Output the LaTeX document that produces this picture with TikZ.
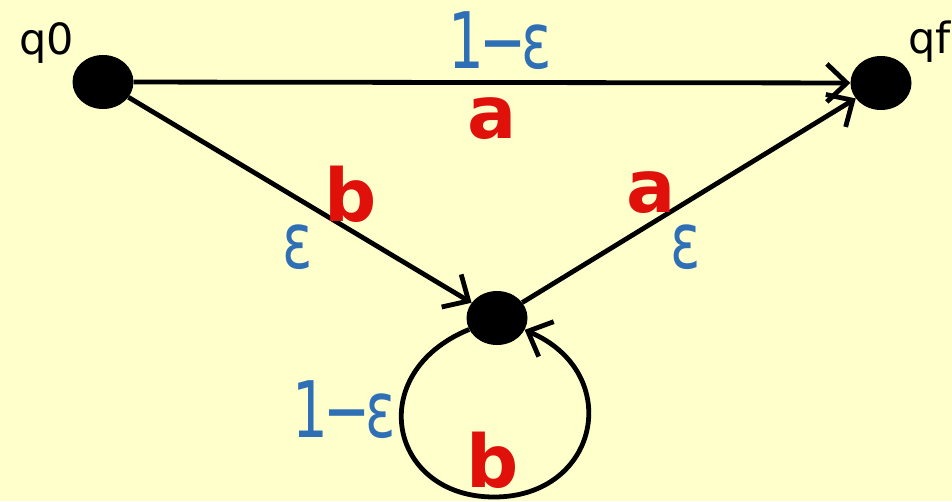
\documentclass[tikz,border=0pt]{standalone}
\usepackage{fontspec}
\setmainfont{DejaVu Sans}
\newfontfamily\epsfont[FakeStretch=0.72]{DejaVu Sans}
\usetikzlibrary{arrows.meta, shapes.geometric}
\definecolor{paper}{HTML}{FFFFCC}
\definecolor{symred}{HTML}{E0110B}
\definecolor{probblue}{HTML}{2F6FB5}

\begin{document}
\begin{tikzpicture}[x=1pt,y=-1pt,
  state/.style={ellipse, fill=black, minimum width=61pt, minimum height=54pt, inner sep=0pt},
  trans/.style={-{Straight Barb[length=20pt,width=38pt]}, line width=4.8pt},
  sym/.style={text=symred, font=\fontsize{73}{73}\selectfont\bfseries, inner sep=0pt},
  prob/.style={text=probblue, font=\epsfont\fontsize{78}{78}\selectfont, inner sep=0pt},
  statelabel/.style={font=\fontsize{43}{43}\selectfont, inner sep=0pt}]
\fill[paper] (0,0) rectangle (952,501);
\node[state] (q0) at (103,82) {};
\node[state] (qf) at (881,83) {};
\node[state] (qm) at (497,318) {};
\coordinate (loopbot) at (494,497);
\node[statelabel] (lq0) at (47,43) {q0};
\node[statelabel, anchor=west] (lqf) at (908,42) {qf};

\draw[trans] (q0) -- (qf);
\draw[trans] (q0) -- (qm);
\draw[trans] (qm) -- (qf);
\draw[trans] (qm) .. controls (363,373) and (389,497) .. (loopbot)
  .. controls (599,497) and (625,373) .. (qm);

\node[prob] (ptop) at (500,41) {1\kern-5pt−\kern-5ptε};
\node[sym] (stop) at (492,119) {a};
\node[sym] (sleft) at (351,194) {b};
\node[prob] (pleft) at (298,247) {ε};
\node[sym] (sright) at (651,193) {a};
\node[prob] (pright) at (686,247) {ε};
\node[prob] (ploop) at (344,410) {1\kern-5pt−\kern-5ptε};
\node[sym] (sloop) at (493,460) {b};
\end{tikzpicture}
\end{document}
